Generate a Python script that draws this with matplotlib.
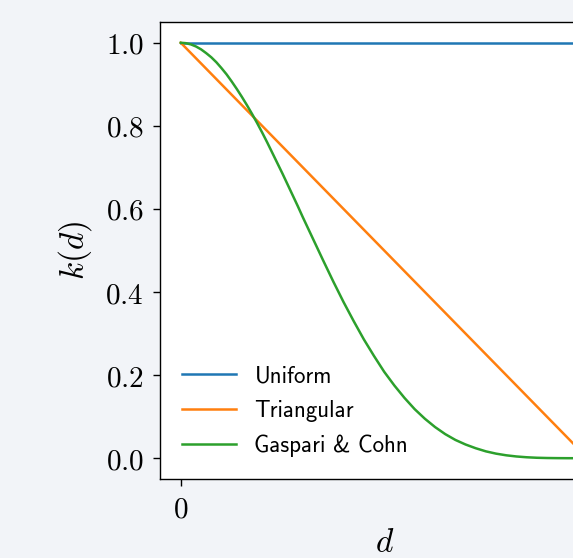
import numpy as np
from matplotlib import pyplot as plt

plt.rcParams['mathtext.fontset'] = 'cm'

# distance, in units of the support length (GC half-width c = 0.5)
d_flat = [0.0, 1.0]
k_uniform = [1.0, 1.0]
k_triangular = [1.0, 0.0]

d_gc = [0.0, 0.0125, 0.025, 0.0375, 0.05, 0.0625, 0.075, 0.0875, 0.1, 0.1125,
        0.125, 0.1375, 0.15, 0.1625, 0.175, 0.1875, 0.2, 0.2125, 0.225, 0.2375,
        0.25, 0.2625, 0.275, 0.2875, 0.3, 0.325, 0.35, 0.375, 0.4, 0.425,
        0.45, 0.475, 0.5, 0.525, 0.55, 0.575, 0.6, 0.625, 0.65, 0.675,
        0.7, 0.725, 0.75, 0.775, 0.8, 0.825, 0.85, 0.875, 0.9, 0.925,
        0.95, 0.975, 1.0]
k_gc = [1.0, 0.999, 0.996, 0.991, 0.984, 0.975, 0.965, 0.953, 0.939, 0.924,
        0.907, 0.889, 0.870, 0.850, 0.829, 0.807, 0.784, 0.760, 0.735, 0.710,
        0.685, 0.659, 0.633, 0.607, 0.580, 0.528, 0.476, 0.425, 0.376, 0.330,
        0.286, 0.246, 0.208, 0.175, 0.145, 0.118, 0.095, 0.075, 0.058, 0.044,
        0.033, 0.024, 0.0165, 0.011, 0.007, 0.0042, 0.0023, 0.0011, 0.0005, 0.0002,
        0.00005, 0.0, 0.0]

labels = ['Uniform', 'Triangular', 'Gaspari & Cohn']
yticks = [0.0, 0.2, 0.4, 0.6, 0.8, 1.0]

fig = plt.figure(figsize=(5.73, 5.58), dpi=100)
fig.patch.set_facecolor('#f2f4f8')
ax = fig.add_axes([0.280, 0.1416, 0.781, 0.819])

lw = 1.8
ax.plot(d_flat, k_uniform, color='C0', lw=lw, label=labels[0])
ax.plot(d_flat, k_triangular, color='C1', lw=lw, label=labels[1])
ax.plot(d_gc, k_gc, color='C2', lw=lw, label=labels[2])

for sp in ax.spines.values():
    sp.set_linewidth(1.0)

ax.set_yticks(yticks, ['$%.1f$' % v for v in yticks])
ax.set_xticks([0], ['$0$'])
ax.tick_params(labelsize=21, length=5, width=1.0, pad=7)
ax.set_ylabel('$k(d)$', fontsize=24, labelpad=8)
ax.set_xlabel('$d$', fontsize=24, labelpad=2)

ax.legend(loc='lower left', frameon=False, prop={'family': 'cmss10', 'size': 16.5},
          handlelength=2.35, labelspacing=0.55, borderaxespad=0.55)

fig.savefig('out.png', dpi=100, facecolor=fig.get_facecolor())
